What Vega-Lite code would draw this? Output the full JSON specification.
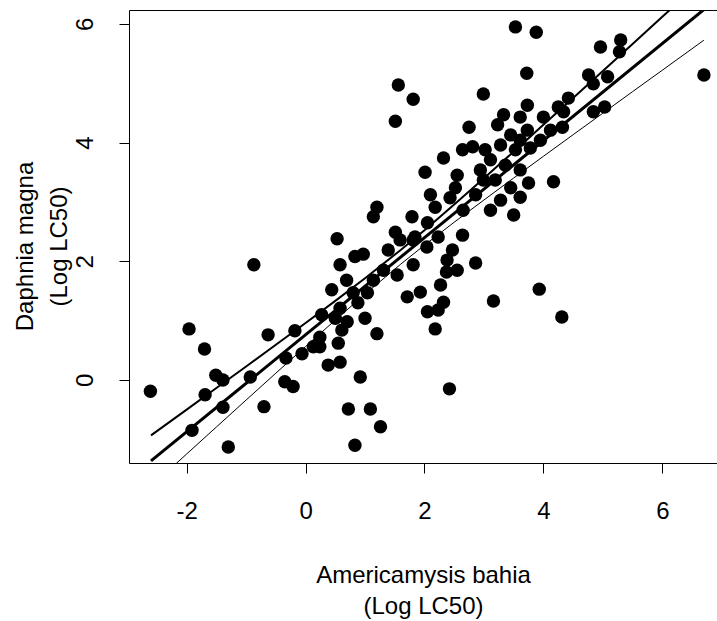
{
  "$schema": "https://vega.github.io/schema/vega-lite/v6.json",
  "width": 588,
  "height": 453,
  "autosize": {"type": "none"},
  "padding": {"left": 129, "top": 10, "right": 0, "bottom": 158},
  "background": "white",
  "config": {
    "view": {"stroke": "#000", "strokeWidth": 1},
    "font": "Liberation Sans",
    "axis": {
      "grid": false,
      "domain": false,
      "tickColor": "#000",
      "tickSize": 10,
      "tickWidth": 1,
      "labelColor": "#000",
      "labelFont": "Liberation Sans",
      "labelFontSize": 24,
      "labelOverlap": false,
      "titleColor": "#000",
      "titleFont": "Liberation Sans",
      "titleFontSize": 24,
      "titleFontWeight": "normal"
    }
  },
  "datasets": {
    "pts": [
      {"x": -2.61, "y": -0.19}, {"x": -1.96, "y": 0.86}, {"x": -1.70, "y": 0.52}, {"x": -1.91, "y": -0.85},
      {"x": -1.69, "y": -0.25}, {"x": -1.51, "y": 0.08}, {"x": -1.39, "y": 0.00}, {"x": -1.39, "y": -0.46},
      {"x": -1.30, "y": -1.13}, {"x": -0.93, "y": 0.05}, {"x": -0.87, "y": 1.94}, {"x": -0.70, "y": -0.45},
      {"x": -0.63, "y": 0.76}, {"x": -0.35, "y": -0.03}, {"x": -0.21, "y": -0.11}, {"x": -0.33, "y": 0.37},
      {"x": -0.18, "y": 0.83}, {"x": -0.06, "y": 0.44}, {"x": 0.27, "y": 1.10}, {"x": 0.24, "y": 0.72},
      {"x": 0.24, "y": 0.56}, {"x": 0.38, "y": 0.25}, {"x": 0.58, "y": 0.30}, {"x": 0.44, "y": 1.52},
      {"x": 0.53, "y": 2.38}, {"x": 0.58, "y": 1.94}, {"x": 0.83, "y": 2.08}, {"x": 0.97, "y": 2.12},
      {"x": 0.58, "y": 1.21}, {"x": 0.70, "y": 0.98}, {"x": 0.61, "y": 0.84}, {"x": 0.55, "y": 0.62},
      {"x": 0.80, "y": 1.47}, {"x": 0.88, "y": 1.30}, {"x": 1.00, "y": 1.04}, {"x": 1.20, "y": 0.78},
      {"x": 0.92, "y": 0.05}, {"x": 0.72, "y": -0.49}, {"x": 1.09, "y": -0.49}, {"x": 1.26, "y": -0.79},
      {"x": 0.83, "y": -1.10}, {"x": 1.14, "y": 1.68}, {"x": 1.31, "y": 1.85}, {"x": 1.54, "y": 1.77},
      {"x": 1.71, "y": 1.40}, {"x": 1.81, "y": 1.94}, {"x": 1.59, "y": 2.36}, {"x": 1.81, "y": 2.36},
      {"x": 1.04, "y": 1.47}, {"x": 1.93, "y": 1.48}, {"x": 2.32, "y": 1.31}, {"x": 2.05, "y": 1.15},
      {"x": 2.23, "y": 1.18}, {"x": 2.18, "y": 0.86}, {"x": 2.42, "y": -0.15}, {"x": 3.16, "y": 1.33},
      {"x": 3.93, "y": 1.53}, {"x": 4.31, "y": 1.06}, {"x": 1.20, "y": 2.91}, {"x": 1.14, "y": 2.75},
      {"x": 1.79, "y": 2.75}, {"x": 2.05, "y": 2.65}, {"x": 1.84, "y": 2.41}, {"x": 2.04, "y": 2.24},
      {"x": 2.23, "y": 2.41}, {"x": 2.18, "y": 2.91}, {"x": 2.43, "y": 3.07}, {"x": 2.65, "y": 2.86},
      {"x": 2.64, "y": 2.44}, {"x": 2.47, "y": 2.19}, {"x": 2.38, "y": 2.02}, {"x": 2.37, "y": 1.82},
      {"x": 2.55, "y": 1.85}, {"x": 2.86, "y": 1.97}, {"x": 2.01, "y": 3.50}, {"x": 2.55, "y": 3.45},
      {"x": 2.99, "y": 3.37}, {"x": 2.32, "y": 3.74}, {"x": 2.64, "y": 3.88}, {"x": 2.75, "y": 4.26},
      {"x": 1.56, "y": 4.97}, {"x": 1.81, "y": 4.73}, {"x": 1.51, "y": 4.36}, {"x": 2.99, "y": 4.82},
      {"x": 3.53, "y": 5.95}, {"x": 3.88, "y": 5.86}, {"x": 3.72, "y": 5.17}, {"x": 3.73, "y": 4.63},
      {"x": 4.00, "y": 4.43}, {"x": 4.25, "y": 4.60}, {"x": 4.42, "y": 4.75}, {"x": 4.12, "y": 4.21},
      {"x": 4.32, "y": 4.26}, {"x": 3.33, "y": 4.47}, {"x": 3.23, "y": 4.30}, {"x": 3.61, "y": 4.43},
      {"x": 3.45, "y": 4.13}, {"x": 3.73, "y": 4.21}, {"x": 3.28, "y": 3.96}, {"x": 3.53, "y": 3.88},
      {"x": 3.78, "y": 3.91}, {"x": 3.11, "y": 3.71}, {"x": 3.36, "y": 3.62}, {"x": 3.61, "y": 3.54},
      {"x": 3.19, "y": 3.37}, {"x": 3.45, "y": 3.24}, {"x": 2.94, "y": 3.54}, {"x": 4.17, "y": 3.34},
      {"x": 3.75, "y": 3.32}, {"x": 3.61, "y": 3.08}, {"x": 3.50, "y": 2.78}, {"x": 2.81, "y": 3.93},
      {"x": 2.86, "y": 3.12}, {"x": 3.11, "y": 2.86}, {"x": 3.28, "y": 3.03}, {"x": 4.96, "y": 5.61},
      {"x": 5.30, "y": 5.73}, {"x": 5.28, "y": 5.53}, {"x": 4.76, "y": 5.14}, {"x": 4.84, "y": 4.99},
      {"x": 5.08, "y": 5.11}, {"x": 4.34, "y": 4.52}, {"x": 5.03, "y": 4.60}, {"x": 4.84, "y": 4.52},
      {"x": 6.70, "y": 5.14}, {"x": 3.02, "y": 3.88}, {"x": 3.61, "y": 4.04}, {"x": 3.95, "y": 4.04},
      {"x": 2.52, "y": 3.24}, {"x": 2.10, "y": 3.12}, {"x": 1.51, "y": 2.49}, {"x": 1.39, "y": 2.19},
      {"x": 2.27, "y": 1.60}, {"x": 0.13, "y": 0.56}, {"x": 0.50, "y": 1.04}, {"x": 0.69, "y": 1.68}
    ],
    "lines": [
      {"x": -2.6, "y": -1.365, "s": "fit"}, {"x": 6.7, "y": 6.243, "s": "fit"},
      {"x": -2.6, "y": -0.934, "s": "upper"}, {"x": -2.0, "y": -0.50, "s": "upper"}, {"x": -1.5, "y": -0.137, "s": "upper"},
      {"x": -1.0, "y": 0.227, "s": "upper"}, {"x": -0.5, "y": 0.592, "s": "upper"}, {"x": 0.0, "y": 0.96, "s": "upper"},
      {"x": 0.5, "y": 1.333, "s": "upper"}, {"x": 1.0, "y": 1.714, "s": "upper"}, {"x": 1.6, "y": 2.191, "s": "upper"},
      {"x": 2.0, "y": 2.524, "s": "upper"}, {"x": 2.5, "y": 2.956, "s": "upper"}, {"x": 3.0, "y": 3.399, "s": "upper"},
      {"x": 3.5, "y": 3.847, "s": "upper"}, {"x": 4.0, "y": 4.299, "s": "upper"}, {"x": 4.5, "y": 4.753, "s": "upper"},
      {"x": 5.0, "y": 5.208, "s": "upper"}, {"x": 5.5, "y": 5.663, "s": "upper"}, {"x": 6.0, "y": 6.12, "s": "upper"},
      {"x": 6.7, "y": 6.759, "s": "upper"},
      {"x": -2.6, "y": -1.796, "s": "lower"}, {"x": -2.0, "y": -1.248, "s": "lower"}, {"x": -1.5, "y": -0.793, "s": "lower"},
      {"x": -1.0, "y": -0.339, "s": "lower"}, {"x": -0.5, "y": 0.114, "s": "lower"}, {"x": 0.0, "y": 0.564, "s": "lower"},
      {"x": 0.5, "y": 1.009, "s": "lower"}, {"x": 1.0, "y": 1.446, "s": "lower"}, {"x": 1.6, "y": 1.951, "s": "lower"},
      {"x": 2.0, "y": 2.272, "s": "lower"}, {"x": 2.5, "y": 2.658, "s": "lower"}, {"x": 3.0, "y": 3.033, "s": "lower"},
      {"x": 3.5, "y": 3.403, "s": "lower"}, {"x": 4.0, "y": 3.769, "s": "lower"}, {"x": 4.5, "y": 4.133, "s": "lower"},
      {"x": 5.0, "y": 4.496, "s": "lower"}, {"x": 5.5, "y": 4.859, "s": "lower"}, {"x": 6.0, "y": 5.22, "s": "lower"},
      {"x": 6.7, "y": 5.727, "s": "lower"}
    ]
  },
  "layer": [
    {
      "data": {"name": "pts"},
      "mark": {"type": "circle", "size": 180, "color": "#000", "opacity": 1, "clip": true},
      "encoding": {
        "x": {
          "field": "x", "type": "quantitative",
          "scale": {"domain": [-2.97, 6.92], "nice": false, "zero": false},
          "axis": {
            "values": [-2, 0, 2, 4, 6],
            "labelExpr": "'' + datum.value",
            "labelPadding": 26,
            "labelBaseline": "top",
            "title": ["Americamysis bahia", "(Log LC50)"],
            "titleX": 294,
            "titleY": 119,
            "titleAlign": "center",
            "titleBaseline": "alphabetic",
            "titleLineHeight": 31
          }
        },
        "y": {
          "field": "y", "type": "quantitative",
          "scale": {"domain": [-1.40, 6.235], "nice": false, "zero": false},
          "axis": {
            "values": [0, 2, 4, 6],
            "labelExpr": "'' + datum.value",
            "labelAngle": 270,
            "labelAlign": "center",
            "labelBaseline": "bottom",
            "labelPadding": 22,
            "title": ["Daphnia magna", "(Log LC50)"],
            "titleAngle": 270,
            "titleX": -97,
            "titleY": 236,
            "titleAlign": "center",
            "titleBaseline": "alphabetic",
            "titleLineHeight": 34
          }
        }
      }
    },
    {
      "data": {"name": "lines"},
      "mark": {"type": "line", "color": "#000", "clip": true},
      "encoding": {
        "x": {"field": "x", "type": "quantitative"},
        "y": {"field": "y", "type": "quantitative"},
        "detail": {"field": "s"},
        "strokeWidth": {
          "field": "s", "type": "nominal",
          "scale": {"domain": ["fit", "upper", "lower"], "range": [3, 1, 1]},
          "legend": null
        }
      }
    }
  ]
}
